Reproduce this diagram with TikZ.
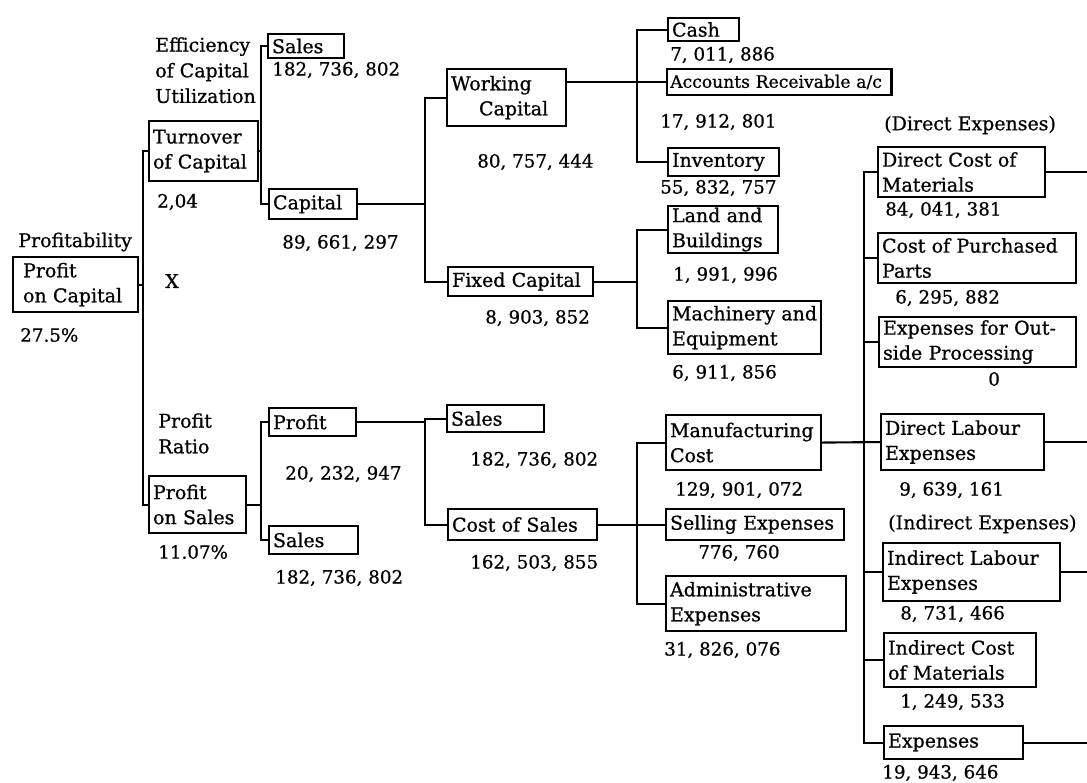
\documentclass[tikz,border=0pt]{standalone}
\usepackage{fontspec}
\setmainfont[FakeBold=0.8]{DejaVu Serif}
\tikzset{
  % boxed item of the tree
  item/.style={draw, line width=1.5pt, anchor=north west, align=left,
    inner xsep=0.1cm, inner ysep=0pt, font=\fontsize{13.5}{17.8}\selectfont,
    execute at begin node={\hyphenpenalty=10000}},
  % figures beside the boxes
  amount/.style={anchor=west, inner sep=0pt, font=\fontsize{13}{17.8}\selectfont},
  % captions of the branches
  caption/.style={anchor=west, align=left, inner sep=0pt,
    font=\fontsize{13.5}{18.2}\selectfont},
  link/.style={line width=1.5pt},
}
\begin{document}
\begin{tikzpicture}[x=0.025cm, y=-0.025cm]
  \useasboundingbox (0,0) rectangle (1087,783);
  % x positions of the vertical bars
  \coordinate (b0) at (143,0);
  \coordinate (b1) at (261,0);
  \coordinate (b2) at (425,0);
  \coordinate (b3) at (637,0);
  \coordinate (b4) at (864,0);
  \coordinate (rim) at (1087,0);

  % Profit on capital
  \node[caption] (tprof) at (18,242) {Profitability};
  \node[item, inner xsep=0.25cm, text width=2.625cm, minimum height=1.375cm] (poc) at (12,256) {Profit\\on~Capital};
  \node[amount] (vpoc) at (20,335) {27.5\%};
  \node[caption] (times) at (165,281) {X};

  % Turnover of capital
  \node[caption, anchor=north west] (teff) at (155,37) {Efficiency\\of Capital\\Utilization};
  \node[item, text width=2.525cm, minimum height=1.5cm] (toc) at (148,120) {Turnover\\of Capital};
  \node[amount] (vtoc) at (157,202) {2,04};
  \node[item, text width=1.7cm, minimum height=0.6cm] (sal1) at (267,33) {Sales};
  \node[amount] (vsal1) at (272,70) {182, 736, 802};
  \node[item, text width=2.0cm, minimum height=0.75cm] (cap) at (268,188) {Capital};
  \node[amount] (vcap) at (282,243) {89, 661, 297};

  % Capital
  \node[item, text width=2.775cm, minimum height=1.425cm] (wc) at (446,68) {Working\\\hspace*{0.7cm}Capital};
  \node[amount] (vwc) at (477,162) {80, 757, 444};
  \node[item, text width=3.425cm, minimum height=0.725cm] (fc) at (447,266) {Fixed Capital};
  \node[amount] (vfc) at (485,318) {8, 903, 852};

  % Working capital
  \node[item, text width=1.575cm, minimum height=0.575cm] (cash) at (667,17) {Cash};
  \node[amount] (vcash) at (670,55) {7, 011, 886};
  \node[item, inner xsep=0.08cm, text width=5.45cm, minimum height=0.65cm, font=\fontsize{12.2}{17.8}\selectfont] (ar) at (666,68) {Accounts~Receivable~a/c};
  \node[amount] (var) at (660,122) {17, 912, 801};
  \node[item, text width=2.575cm, minimum height=0.7cm] (inv) at (667,147) {Inventory};
  \node[amount] (vinv) at (660,188) {55, 832, 757};

  % Fixed capital
  \node[item, text width=2.55cm, minimum height=1.175cm] (lb) at (667,205) {Land and\\Buildings};
  \node[amount] (vlb) at (673,275) {1, 991, 996};
  \node[item, text width=3.625cm, minimum height=1.325cm] (me) at (667,300) {Machinery~and\\Equipment};
  \node[amount] (vme) at (672,373) {6, 911, 856};

  % Profit on sales
  \node[caption, anchor=north west] (tratio) at (158,413) {Profit\\Ratio};
  \node[item, text width=2.225cm, minimum height=1.425cm] (pos) at (148,475) {Profit\\on Sales};
  \node[amount] (vpos) at (158,552) {11.07\%};
  \node[item, text width=1.975cm, minimum height=0.7cm] (pro) at (268,407) {Profit};
  \node[amount] (vpro) at (285,474) {20, 232, 947};
  \node[item, text width=2.025cm, minimum height=0.7cm] (sal3) at (268,525) {Sales};
  \node[amount] (vsal3) at (275,578) {182, 736, 802};

  % Profit
  \node[item, text width=2.225cm, minimum height=0.675cm] (sal2) at (446,404) {Sales};
  \node[amount] (vsal2) at (470,460) {182, 736, 802};
  \node[item, text width=3.525cm, minimum height=0.775cm] (cos) at (447,508) {Cost of Sales};
  \node[amount] (vcos) at (470,563) {162, 503, 855};

  % Cost of sales
  \node[item, text width=3.675cm, minimum height=1.375cm] (mfg) at (665,414) {Manufacturing\\Cost};
  \node[amount] (vmfg) at (675,490) {129, 901, 072};
  \node[item, text width=4.25cm, minimum height=0.775cm] (se) at (665,508) {Selling Expenses};
  \node[amount] (vse) at (698,553) {776, 760};
  \node[item, text width=4.3cm, minimum height=1.375cm] (adm) at (665,575) {Administrative\\Expenses};
  \node[amount] (vadm) at (664,650) {31, 826, 076};

  % Manufacturing cost
  \node[caption] (tdir) at (884,125) {(Direct Expenses)};
  \node[item, text width=3.975cm, minimum height=1.25cm] (dcm) at (877,146) {Direct Cost of\\Materials};
  \node[amount] (vdcm) at (885,210) {84, 041, 381};
  \node[item, text width=4.75cm, minimum height=1.25cm] (cpp) at (877,232) {Cost of Purchased\\Parts};
  \node[amount] (vcpp) at (895,298) {6, 295, 882};
  \node[item, text width=4.725cm, minimum height=1.25cm] (eop) at (878,316) {Expenses for Out-\\side Processing};
  \node[amount] (veop) at (988,379) {0};
  \node[item, text width=3.875cm, minimum height=1.4cm] (dle) at (880,413) {Direct Labour\\Expenses};
  \node[amount] (vdle) at (899,490) {9, 639, 161};
  \node[caption] (tind) at (888,524) {(Indirect Expenses)};
  \node[item, text width=4.225cm, minimum height=1.45cm] (ile) at (882,542) {Indirect Labour\\Expenses};
  \node[amount] (vile) at (900,614) {8, 731, 466};
  \node[item, text width=3.6cm, minimum height=1.35cm] (icm) at (883,632) {Indirect Cost\\of Materials};
  \node[amount] (vicm) at (900,702) {1, 249, 533};
  \node[item, text width=3.275cm, minimum height=0.825cm] (exp) at (883,725) {Expenses};
  \node[amount] (vexp) at (882,773) {19, 943, 646};

  % Draw the bars and branches
  \draw[link] (toc.west) -- (toc.west -| b0) -- (pos.west -| b0) -- (pos.west);
  \draw[link] (poc.east) -- (poc.east -| b0);
  \draw[link] (sal1.west) -- (sal1.west -| b1) -- (cap.west -| b1) -- (cap.west);
  \draw[link] (toc.east) -- (toc.east -| b1);
  \draw[link] (wc.west) -- (wc.west -| b2) -- (fc.west -| b2) -- (fc.west);
  \draw[link] (cap.east) -- (cap.east -| b2);
  \draw[link] (cash.west) -- (cash.west -| b3) -- (inv.west -| b3) -- (inv.west);
  \draw[link] (wc.east |- ar.west) -- (ar.west);
  \draw[link] (lb.west) -- (lb.west -| b3) -- (me.west -| b3) -- (me.west);
  \draw[link] (fc.east) -- (fc.east -| b3);
  \draw[link] (pro.west) -- (pro.west -| b1) -- (sal3.west -| b1) -- (sal3.west);
  \draw[link] (pos.east) -- (pos.east -| b1);
  \draw[link] (sal2.west) -- (sal2.west -| b2) -- (cos.west -| b2) -- (cos.west);
  \draw[link] (pro.east) -- (pro.east -| b2);
  \draw[link] (mfg.west) -- (mfg.west -| b3) -- (adm.west -| b3) -- (adm.west);
  \draw[link] (cos.east) -- (se.west);
  \draw[link] (dcm.west) -- (dcm.west -| b4) -- (exp.west -| b4) -- (exp.west);
  \draw[link] (mfg.east) -- (dle.west);
  \foreach \n in {cpp, eop, ile, icm} {
    \draw[link] (\n.west) -- (\n.west -| b4);
  }
  % Lines leaving to the right
  \foreach \n in {dcm, dle, ile, exp} {
    \draw[link] (\n.east) -- (\n.east -| rim);
  }
\end{tikzpicture}
\end{document}
